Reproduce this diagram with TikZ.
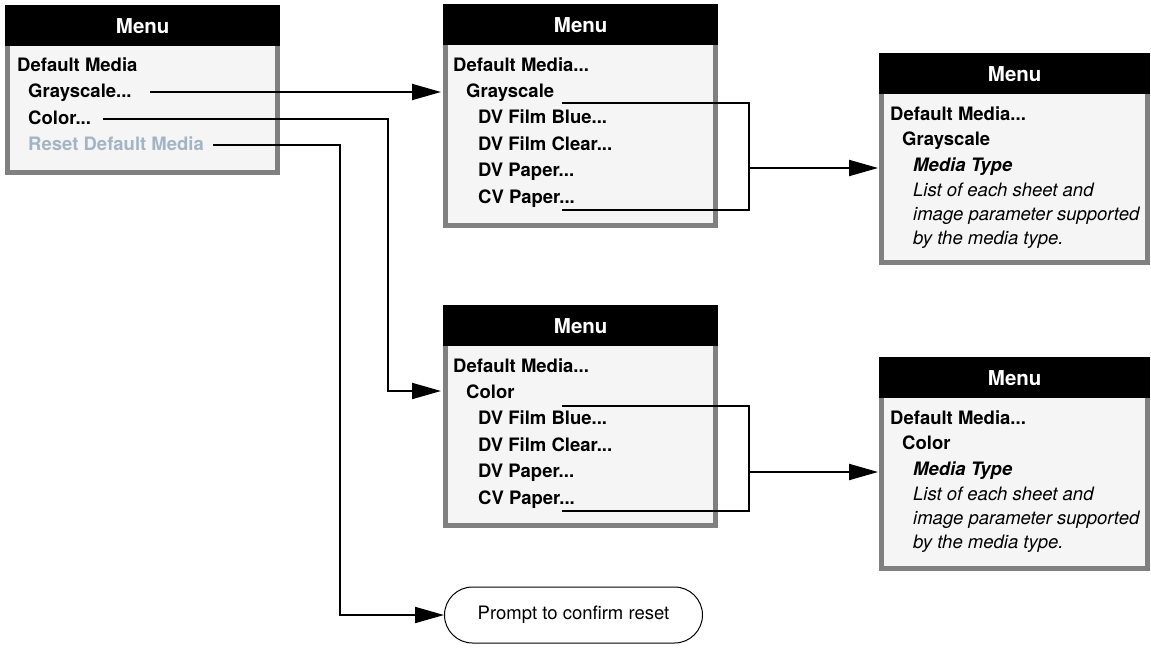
\documentclass[tikz,border=0pt]{standalone}
\usepackage{fontspec}
\setmainfont{TeX Gyre Heros}
\usetikzlibrary{arrows.meta}
\definecolor{framegray}{HTML}{808080}
\definecolor{panelfill}{HTML}{F5F5F5}
\definecolor{resetblue}{HTML}{A3B5C5}
\tikzset{
  frame/.style={fill=framegray, draw=none, inner sep=0pt, rectangle},
  panel/.style={fill=panelfill},
  header/.style={fill=black, text=white, inner sep=0pt, minimum height=41pt,
    font=\fontsize{20.5}{22}\selectfont\bfseries},
  item/.style={anchor=base west, inner sep=0pt, font=\fontsize{18.5}{20}\selectfont\bfseries},
  desc/.style={anchor=base west, inner sep=0pt, font=\fontsize{18.5}{20}\selectfont\itshape},
  conn/.style={draw=black, line width=2pt},
  arr/.style={conn, -{Triangle[length=29pt,width=16pt]}},
  prompt/.style={draw=black, line width=1pt, rounded corners=28pt, fill=white,
    minimum width=258pt, minimum height=56pt, inner sep=0pt,
    font=\fontsize{18.5}{20}\selectfont}
}
\newcommand\menubox[5]{%
  \node[frame, minimum width=#4, minimum height=#5, anchor=north west] (#1) at (#2,#3) {};
  \fill[panel] ([xshift=5pt,yshift=5pt]#1.south west) rectangle ([xshift=-5pt,yshift=-41pt]#1.north east);
  \node[header, minimum width=#4, anchor=north west] (#1h) at (#1.north west) {Menu};
}
\begin{document}
\begin{tikzpicture}[x=1pt,y=-1pt]
\useasboundingbox (0,0) rectangle (1151,656);

% menu frames
\menubox{m1}{5}{5}{275pt}{170pt}
\menubox{m2}{443}{4}{275pt}{224pt}
\menubox{m3}{879}{53}{271pt}{212pt}
\menubox{m4}{443}{305}{275pt}{223pt}
\menubox{m5}{879}{357}{271pt}{214pt}

% box 1
\node[item] (b1dm) at (17,71) {Default Media};
\node[item] (b1g) at (28,97.5) {Grayscale...};
\node[item] (b1c) at (28,124) {Color...};
\node[item, text=resetblue] (b1r) at (28,150.5) {Reset Default Media};

% box 2
\node[item] (b2dm) at (453,71) {Default Media...};
\node[item] (b2g) at (466,97) {Grayscale};
\node[item] (b2a) at (478,123.5) {DV Film Blue...};
\node[item] (b2b) at (478,150) {DV Film Clear...};
\node[item] (b2c) at (478,176.5) {DV Paper...};
\node[item] (b2d) at (478,203) {CV Paper...};

% box 3
\node[item] (b3dm) at (890,120) {Default Media...};
\node[item] (b3g) at (902,145.5) {Grayscale};
\node[item] (b3t) at (913,171) {\itshape Media Type};
\node[desc] (b3l1) at (913,196) {List of each sheet and};
\node[desc] (b3l2) at (913,220) {image parameter supported};
\node[desc] (b3l3) at (913,244) {by the media type.};

% box 4
\node[item] (b4dm) at (453,372) {Default Media...};
\node[item] (b4c) at (466,398) {Color};
\node[item] (b4a) at (478,424.5) {DV Film Blue...};
\node[item] (b4b) at (478,451) {DV Film Clear...};
\node[item] (b4c2) at (478,477.5) {DV Paper...};
\node[item] (b4d) at (478,504) {CV Paper...};

% box 5
\node[item] (b5dm) at (890,424) {Default Media...};
\node[item] (b5c) at (902,449.5) {Color};
\node[item] (b5t) at (913,475) {\itshape Media Type};
\node[desc] (b5l1) at (913,500) {List of each sheet and};
\node[desc] (b5l2) at (913,524) {image parameter supported};
\node[desc] (b5l3) at (913,548) {by the media type.};

% prompt
\node[prompt, anchor=west] (p) at (444,615) {Prompt to confirm reset};

% connector coordinates
\coordinate (gs) at (150,92);
\coordinate (cs) at (103,119);
\coordinate (rs) at (213,145);
\coordinate (cx) at (388,0);
\coordinate (rx) at (340,0);
\coordinate (t2) at (562,103);
\coordinate (u2) at (562,210);
\coordinate (v2) at (749,168);
\coordinate (t4) at (562,406);
\coordinate (u4) at (562,511);
\coordinate (v4) at (749,472);

% connectors
\draw[arr, shorten >=2pt] (gs) -- (gs -| m2.west);
\draw[arr, shorten >=2pt] (cs) -- (cx |- cs) -- (cx |- 0,391) -- (m4.west |- 0,391);
\draw[arr] (rs) -- (rx |- rs) -- (rx |- p.west) -- (p.west);
\draw[conn] (t2) -- (v2 |- t2) -- (v2 |- u2) -- (u2);
\draw[arr, shorten >=1pt] (v2) -- (v2 -| m3.west);
\draw[conn] (t4) -- (v4 |- t4) -- (v4 |- u4) -- (u4);
\draw[arr, shorten >=1pt] (v4) -- (v4 -| m5.west);
\end{tikzpicture}
\end{document}
